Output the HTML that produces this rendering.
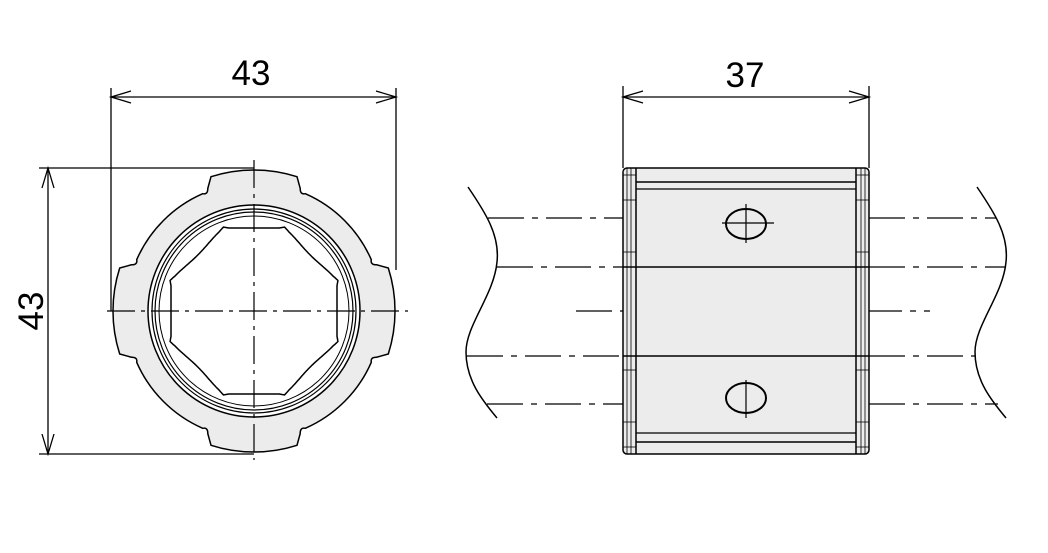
<!DOCTYPE html>
<html><head><meta charset="utf-8"><style>html,body{margin:0;padding:0;background:#fff}svg{display:block}</style></head>
<body>
<svg id="s" width="1048" height="553" viewBox="0 0 1048 553" xmlns="http://www.w3.org/2000/svg" font-family="Liberation Sans, sans-serif">
<g stroke="#000" fill="none" stroke-width="1.3">
<line x1="111" y1="88" x2="111" y2="311"/>
<line x1="396" y1="88" x2="396" y2="270"/>
<line x1="111" y1="97" x2="396" y2="97"/>
<polyline points="131,91 111,97 131,103"/><polyline points="376,91 396,97 376,103"/>
<line x1="39" y1="168" x2="254" y2="168"/>
<line x1="39" y1="454" x2="254" y2="454"/>
<line x1="48" y1="168" x2="48" y2="454"/>
<polyline points="42,188 48,168 54,188"/><polyline points="42,434 48,454 54,434"/>
<line x1="623" y1="86" x2="623" y2="168"/>
<line x1="869" y1="86" x2="869" y2="168"/>
<line x1="623" y1="97" x2="869" y2="97"/>
<polyline points="643,91 623,97 643,103"/><polyline points="849,91 869,97 849,103"/>
</g>
<text x="251" y="85" font-size="35" text-anchor="middle">43</text>
<text x="745" y="87" font-size="35" text-anchor="middle">37</text>
<text transform="translate(43,311) rotate(-90)" font-size="35" text-anchor="middle">43</text>

<g id="lv" stroke="#000" stroke-width="1.5">
<path id="outer" fill="#ececec"/>
<circle cx="254" cy="311" r="106" fill="#fff"/>
<circle cx="254" cy="311" r="102" fill="none" stroke-width="1.2"/>
<circle cx="254" cy="311" r="99" fill="none" stroke-width="1.2"/>
<circle cx="254" cy="311" r="95" fill="none" stroke-width="1"/>
<path id="key" fill="#fff"/>
</g>
<g stroke="#000" stroke-width="1.2" stroke-dasharray="28,6,4,6" fill="none">
<line x1="254" y1="160" x2="254" y2="460"/>
<line x1="107" y1="311" x2="408" y2="311"/>
</g>

<g stroke="#000" fill="none" stroke-width="1.5">
<path d="M468,187 C485,212 500,235 497,262 C494,295 466,325 466,352 C466,380 482,400 497,418"/>
<path d="M977,187 C994,212 1009,235 1006,262 C1003,295 975,325 975,352 C975,380 991,400 1006,418"/>
</g>
<g stroke="#000" stroke-width="1.2" stroke-dasharray="36,8,6,8" fill="none">
<line x1="488" y1="218" x2="623" y2="218"/>
<line x1="497" y1="267" x2="623" y2="267"/>
<line x1="576" y1="311" x2="930" y2="311"/>
<line x1="467" y1="356" x2="623" y2="356"/>
<line x1="487" y1="404" x2="623" y2="404"/>
<line x1="869" y1="218" x2="996" y2="218"/>
<line x1="869" y1="267" x2="1006" y2="267"/>
<line x1="869" y1="356" x2="975" y2="356"/>
<line x1="869" y1="404" x2="998" y2="404"/>
</g>
<rect x="623" y="168" width="246" height="286" rx="4" fill="#ececec" stroke="#000" stroke-width="1.5"/>
<g stroke="#000" fill="none" stroke-width="1.2">
<line x1="636" y1="168" x2="636" y2="454" stroke-width="1.5"/>
<line x1="856" y1="168" x2="856" y2="454" stroke-width="1.5"/>
<line x1="627" y1="168" x2="627" y2="454" stroke-width="0.8"/>
<line x1="631" y1="168" x2="631" y2="454" stroke-width="0.8"/>
<line x1="861" y1="168" x2="861" y2="454" stroke-width="0.8"/>
<line x1="865" y1="168" x2="865" y2="454" stroke-width="0.8"/>
<line x1="636" y1="182" x2="856" y2="182" stroke-width="1.5"/>
<line x1="636" y1="189" x2="856" y2="189"/>
<line x1="623" y1="267" x2="869" y2="267" stroke-width="1.5"/>
<line x1="623" y1="356" x2="869" y2="356" stroke-width="1.5"/>
<line x1="636" y1="433" x2="856" y2="433"/>
<line x1="636" y1="442" x2="856" y2="442" stroke-width="1.5"/>
<line x1="623" y1="175" x2="636" y2="175" stroke-width="0.8"/><line x1="856" y1="175" x2="869" y2="175" stroke-width="0.8"/>
<line x1="623" y1="200" x2="636" y2="200" stroke-width="0.8"/><line x1="856" y1="200" x2="869" y2="200" stroke-width="0.8"/>
<line x1="623" y1="252" x2="636" y2="252" stroke-width="0.8"/><line x1="856" y1="252" x2="869" y2="252" stroke-width="0.8"/>
<line x1="623" y1="370" x2="636" y2="370" stroke-width="0.8"/><line x1="856" y1="370" x2="869" y2="370" stroke-width="0.8"/>
<line x1="623" y1="422" x2="636" y2="422" stroke-width="0.8"/><line x1="856" y1="422" x2="869" y2="422" stroke-width="0.8"/>
<line x1="623" y1="447" x2="636" y2="447" stroke-width="0.8"/><line x1="856" y1="447" x2="869" y2="447" stroke-width="0.8"/>
<ellipse cx="746" cy="224" rx="20" ry="15" stroke-width="2"/>
<ellipse cx="746" cy="398" rx="20" ry="15" stroke-width="2"/>
<line x1="722" y1="223" x2="774" y2="223"/>
<line x1="746" y1="204" x2="746" y2="243"/>
<line x1="746" y1="380" x2="746" y2="418"/>
</g>
</svg>
<script>
(function(){
var cx=254,cy=311;
function P(r,a){a=a*Math.PI/180;return (cx+r*Math.cos(a)).toFixed(1)+","+(cy-r*Math.sin(a)).toFixed(1);}
var R=128,RL=141,w=43;
var aR=Math.asin(w/R)*180/Math.PI, aL=Math.asin(w/RL)*180/Math.PI;
var d="";
for(var k=0;k<4;k++){
  var b=k*90;
  var s1=b-aL, e1=b+aL;
  if(k==0) d+="M"+P(RL,s1);
  d+=" A"+RL+","+RL+" 0 0 0 "+P(RL,e1);
  d+=" L"+P(R+3,b+aR+1)+" Q"+P(R-3,b+aR+2)+" "+P(R,b+aR+4);
  d+=" A"+R+","+R+" 0 0 0 "+P(R,b+90-aR-4);
  d+=" Q"+P(R-3,b+90-aR-2)+" "+P(R+3,b+90-aR-1)+" L"+P(RL,b+90-aL);
}
d+="Z";
document.getElementById("outer").setAttribute("d",d);
function prof(f){
  f=Math.abs(f);
  if(f<17) return 83/Math.cos(f*Math.PI/180);
  if(f<20) return 86.8+(f-17)/3*2.5;
  if(f<24) return 89.3-(f-20)/4*3;
  var t=(f-24)/21;
  return 86.3-7*Math.sin(t*Math.PI/2);
}
var pts=[];
for(var a=0;a<360;a+=0.5){
  var f=((a+45)%90)-45;
  pts.push(P(prof(f),a));
}
document.getElementById("key").setAttribute("d","M"+pts.join(" L")+"Z");
})();
</script>
</body></html>
